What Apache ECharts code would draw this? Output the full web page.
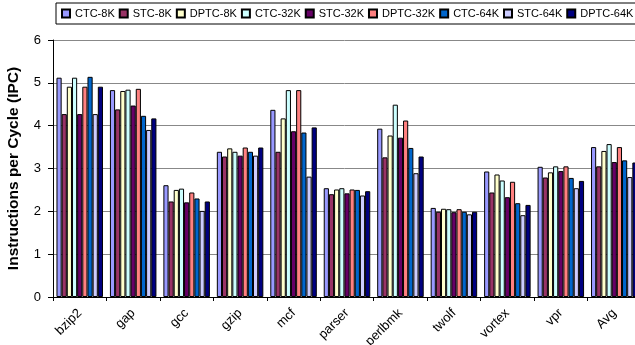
<!DOCTYPE html>
<html><head><meta charset="utf-8">
<script src="https://cdn.jsdelivr.net/npm/echarts@6/dist/echarts.min.js"></script>
<style>html,body{margin:0;padding:0;background:#fff}#c{width:635px;height:345px}</style>
</head><body><div id="c"></div>
<script>
const categories = ['bzip2','gap','gcc','gzip','mcf','parser','perlbmk','twolf','vortex','vpr','Avg'];
const seriesNames = ['CTC-8K','STC-8K','DPTC-8K','CTC-32K','STC-32K','DPTC-32K','CTC-64K','STC-64K','DPTC-64K'];
const ctc8k  = [5.12,4.83,2.61,3.39,4.37,2.54,3.93,2.08,2.93,3.04,3.50];
const stc8k  = [4.27,4.38,2.23,3.28,3.39,2.40,3.26,1.99,2.44,2.79,3.05];
const dptc8k = [4.91,4.81,2.50,3.47,4.17,2.51,3.77,2.06,2.86,2.91,3.41];
const ctc32k = [5.12,4.84,2.53,3.39,4.83,2.54,4.49,2.05,2.72,3.05,3.57];
const stc32k = [4.27,4.47,2.21,3.30,3.87,2.42,3.72,1.98,2.33,2.94,3.15];
const dptc32k= [4.91,4.86,2.44,3.49,4.83,2.51,4.12,2.05,2.69,3.05,3.50];
const ctc64k = [5.14,4.23,2.30,3.39,3.84,2.50,3.48,1.99,2.19,2.78,3.19];
const stc64k = [4.27,3.90,2.01,3.30,2.81,2.37,2.89,1.93,1.91,2.54,2.80];
const dptc64k= [4.91,4.17,2.23,3.49,3.96,2.47,3.28,1.99,2.15,2.71,3.14];
const yTicks = [0,1,2,3,4,5,6];
const values = [ctc8k,stc8k,dptc8k,ctc32k,stc32k,dptc32k,ctc64k,stc64k,dptc64k];
const colors = ['#9999FF','#993366','#FFFFCC','#CCFFFF','#660066','#FF8080','#0066CC','#CCCCFF','#000080'];

const chart = echarts.init(document.getElementById('c'), null, {renderer:'canvas'});
const font = 'Liberation Sans, Arial, sans-serif';
chart.setOption({
  animation:false,
  color: colors,
  textStyle:{fontFamily:font},
  legend:{
    data: seriesNames,
    left:56, top:3, width:620,
    itemWidth:8, itemHeight:8, itemGap:4,
    padding:[5,4,5,5],
    borderColor:'#000', borderWidth:1, backgroundColor:'#fff',
    textStyle:{fontSize:11, color:'#000', fontFamily:font},
    icon:'rect'
  },
  grid:{left:53, top:40, width:588, height:257, containLabel:false, outerBoundsMode:'none'},
  xAxis:{
    type:'category', data:categories,
    axisLine:{lineStyle:{color:'#000'}},
    axisTick:{show:true, length:4, lineStyle:{color:'#000'}},
    axisLabel:{rotate:45, fontSize:13, color:'#000', fontFamily:font, margin:14, interval:0}
  },
  yAxis:{
    type:'value', min:yTicks[0], max:yTicks[yTicks.length-1], interval:1,
    name:'Instructions per Cycle (IPC)', nameLocation:'middle', nameGap:31,
    nameTextStyle:{fontSize:15.5, fontWeight:'bold', color:'#000', fontFamily:font},
    axisLine:{show:true, lineStyle:{color:'#000'}},
    axisTick:{show:true, length:5, lineStyle:{color:'#000'}},
    axisLabel:{fontSize:13, color:'#000', fontFamily:font, margin:12},
    splitLine:{lineStyle:{color:'#888', width:1}}
  },
  series: seriesNames.map((n,i)=>({
    name:n, type:'bar', data:values[i],
    barGap:'0%', barCategoryGap:'13%',
    itemStyle:{color:colors[i], borderColor:'#000', borderWidth:1}
  }))
});
</script>
</body></html>
